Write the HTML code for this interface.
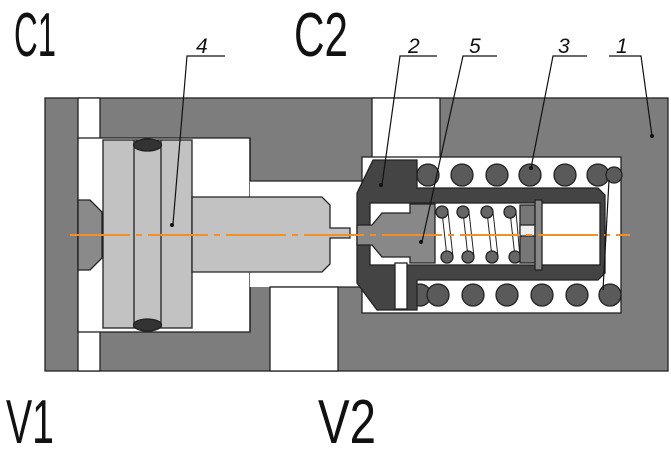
<!DOCTYPE html>
<html><head><style>html,body{margin:0;padding:0;background:#fff}svg{display:block}</style></head>
<body>
<svg width="671" height="463" viewBox="0 0 671 463" xmlns="http://www.w3.org/2000/svg">
<g font-family="Liberation Sans, sans-serif" font-weight="normal" fill="#111">
<text x="14" y="56" font-size="62" textLength="42" lengthAdjust="spacingAndGlyphs">C1</text>
<text x="294" y="56" font-size="62" textLength="54" lengthAdjust="spacingAndGlyphs">C2</text>
<text x="6" y="443" font-size="62" textLength="48" lengthAdjust="spacingAndGlyphs">V1</text>
<text x="318" y="443" font-size="62" textLength="58" lengthAdjust="spacingAndGlyphs">V2</text>
<g font-size="21" font-style="italic">
<text x="196" y="53">4</text><text x="408" y="53">2</text><text x="469" y="53">5</text><text x="558" y="53">3</text><text x="616" y="53">1</text>
</g>
</g>
<g stroke="#222" stroke-width="1.3">
<rect x="45" y="98" width="623" height="273" fill="#7d7d7d"/>
<rect x="78" y="98" width="22" height="273" fill="#fff"/>
<rect x="78" y="138" width="172" height="194" fill="#fff"/>
<rect x="250" y="181" width="112" height="106" fill="#fff" stroke="none"/>
<line x1="250" y1="181" x2="362" y2="181"/><line x1="270" y1="287" x2="362" y2="287"/>
<rect x="270" y="287" width="68" height="84" fill="#fff"/>
<rect x="372" y="98" width="68" height="60" fill="#fff"/>
<rect x="362" y="157" width="259" height="156" fill="#fff"/>
<line x1="250" y1="138" x2="250" y2="181"/><line x1="250" y1="287" x2="250" y2="332"/>
<!-- piston -->
<path d="M78,200 L90,200 L102,212 L102,258 L90,270 L78,270 Z" fill="#8a8a8a"/>
<rect x="103" y="140" width="89" height="188" fill="#c2c2c2"/>
<line x1="134" y1="140" x2="134" y2="328"/><line x1="161" y1="140" x2="161" y2="328"/>
<ellipse cx="147.5" cy="145" rx="14" ry="6" fill="#333"/>
<ellipse cx="147.5" cy="325" rx="14" ry="6" fill="#333"/>
<path d="M192,197 L322,197 L330,205 L330,228 L350,228 L350,238 L330,238 L330,264 L322,272 L192,272 Z" fill="#c2c2c2"/>
<!-- outer spring -->
<g fill="#5a5a5a">
<circle cx="428" cy="175" r="11"/><circle cx="462" cy="175" r="11"/><circle cx="497" cy="175" r="11"/><circle cx="530" cy="175" r="11"/><circle cx="565" cy="175" r="11"/><circle cx="598" cy="175" r="11"/><circle cx="614" cy="175" r="8"/>
<circle cx="420" cy="295" r="11"/><circle cx="438" cy="295" r="11"/><circle cx="473" cy="295" r="11"/><circle cx="507" cy="295" r="11"/><circle cx="542" cy="295" r="11"/><circle cx="577" cy="295" r="11"/><circle cx="610" cy="295" r="11"/>
</g>
<!-- poppet 2 -->
<path d="M357,193 L373,160 L417,160 L417,188 L598,188 L605,195 L605,273 L598,280 L417,280 L417,310 L377,310 L357,283 Z" fill="#444"/>
<rect x="370" y="203" width="230" height="62" fill="#fff"/>
<rect x="395" y="263" width="12" height="46" fill="#fff"/>
<!-- seat 5 -->
<path d="M382,213 L410,213 L410,204 L435,204 L435,263 L410,263 L410,257 L382,257 L372,245 L357,245 L357,225 L372,225 Z" fill="#888"/>
<!-- inner spring -->
<g fill="none" stroke-width="1"><line x1="442" y1="212" x2="447" y2="257"/><line x1="463" y1="212" x2="468" y2="257"/><line x1="487" y1="212" x2="492" y2="257"/><line x1="510" y1="212" x2="515" y2="257"/>
<line x1="448" y1="212" x2="453" y2="257"/><line x1="469" y1="212" x2="474" y2="257"/><line x1="493" y1="212" x2="498" y2="257"/><line x1="516" y1="212" x2="520" y2="257"/></g>
<g fill="#666">
<circle cx="442" cy="212" r="6"/><circle cx="463" cy="212" r="6"/><circle cx="487" cy="212" r="6"/><circle cx="510" cy="212" r="6"/>
<circle cx="447" cy="257" r="6"/><circle cx="468" cy="257" r="6"/><circle cx="492" cy="257" r="6"/><circle cx="515" cy="257" r="6"/>
</g>
<rect x="520" y="205" width="15" height="58" fill="#777"/>
<rect x="520" y="225" width="15" height="11" fill="#eee"/>
<rect x="535" y="200" width="7" height="70" fill="#888"/>
</g>
<line x1="70" y1="235" x2="630" y2="235" stroke="#f0902a" stroke-width="2" stroke-dasharray="60,6,6,6"/>
<g stroke="#111" stroke-width="1.2" fill="none">
<polyline points="225,56 187,56 173,224"/>
<polyline points="437,56 400,56 382,185"/>
<polyline points="497,56 463,56 422,242"/>
<polyline points="587,56 553,56 531,168"/>
<polyline points="609,56 641,56 652,136"/>
<line x1="609" y1="180" x2="603" y2="290"/>
</g>
<circle cx="172" cy="225" r="2" fill="#111"/><circle cx="381" cy="185" r="2" fill="#111"/><circle cx="421" cy="242" r="2" fill="#111"/><circle cx="531" cy="168" r="2" fill="#111"/><circle cx="652" cy="136" r="2" fill="#111"/>
</svg>
</body></html>
